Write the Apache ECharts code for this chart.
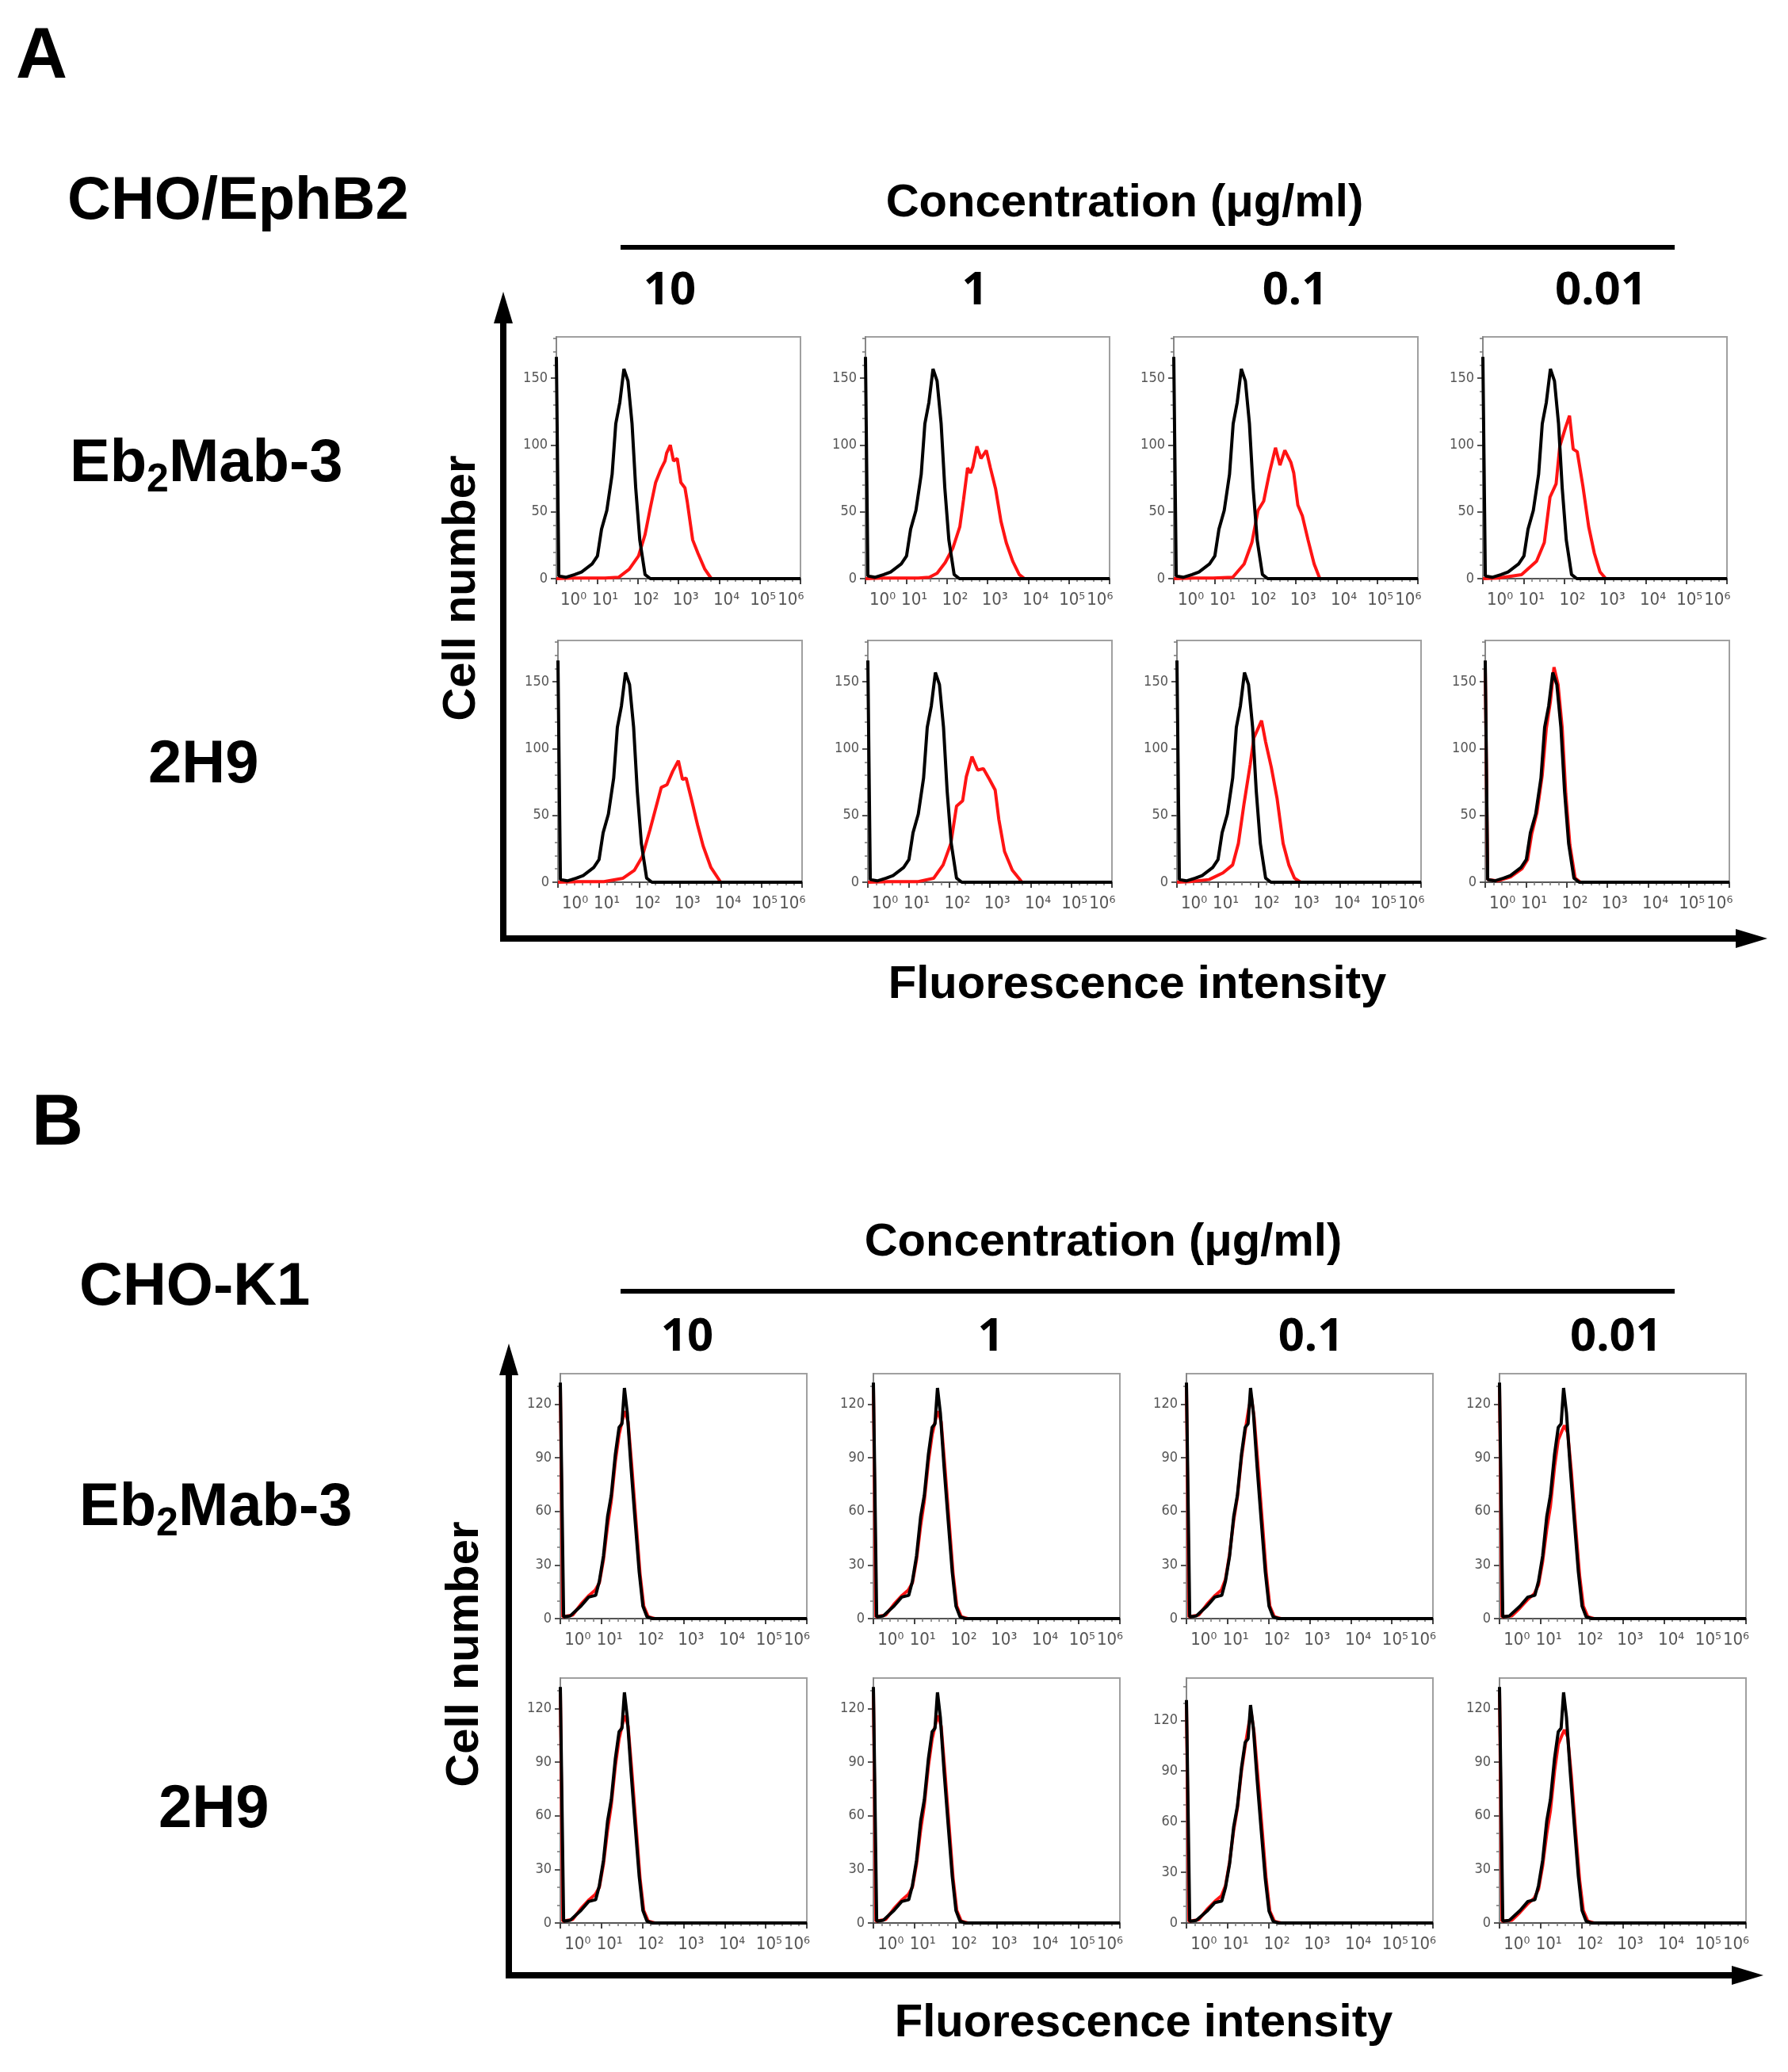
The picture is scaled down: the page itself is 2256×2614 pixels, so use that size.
<!DOCTYPE html>
<html><head><meta charset="utf-8">
<script src="https://cdn.jsdelivr.net/npm/echarts@6/dist/echarts.min.js"></script>
<style>html,body{margin:0;padding:0;background:#fff}#c{width:2256px;height:2614px}</style>
</head><body><div id="c"></div>
<script>
// ---------------- data ----------------
const concentrations = ['10', '1', '0.1', '0.01'];
const antibodies = ['Eb2Mab-3', '2H9'];
const cellLines = ['CHO/EphB2', 'CHO-K1'];
const xTickLabels = ['10\u2070', '10\u00b9', '10\u00b2', '10\u00b3', '10\u2074', '10\u2075\u200a10\u2076'];
const yTicksA = [0, 50, 100, 150];
const yTicksB = [0, 30, 60, 90, 120];

// control (black) histogram, panel A
const ctrlA = [[0,166],[0.06,2],[0.23,1],[0.45,3],[0.62,5],[0.88,11],[1.01,17],[1.11,37],[1.24,51],[1.37,78],[1.46,116],[1.56,132],[1.66,157],[1.76,148],[1.86,116],[1.95,68],[2.05,29],[2.18,3],[2.31,0],[6,0]];
// antibody (red) histograms, panel A
const redA_r1c1 = [[0,0],[0.4,0.5],[1.2,0.5],[1.53,1],[1.79,7],[2.02,17],[2.18,33],[2.31,53],[2.44,72],[2.57,82],[2.67,88],[2.71,94],[2.80,100],[2.88,88],[2.97,90],[3.06,72],[3.16,68],[3.22,57],[3.35,29],[3.48,19],[3.65,7],[3.81,0],[6,0]];
const redA_r1c2 = [[0,0],[0.4,0.5],[1.3,0.5],[1.57,1],[1.76,4],[1.96,12],[2.15,23],[2.32,39],[2.41,59],[2.51,83],[2.58,79],[2.64,84],[2.74,99],[2.84,90],[2.97,96],[3.07,83],[3.20,67],[3.33,43],[3.46,27],[3.62,13],[3.78,3],[3.91,0],[6,0]];
const redA_r1c3 = [[0,0],[0.5,0.5],[0.97,0.5],[1.45,1],[1.73,11],[1.92,27],[2.07,51],[2.21,58],[2.35,79],[2.50,98],[2.61,85],[2.73,96],[2.88,87],[2.95,79],[3.05,55],[3.16,47],[3.30,29],[3.45,11],[3.59,0],[6,0]];
const redA_r1c4 = [[0,0],[0.38,0.5],[0.95,3],[1.32,13],[1.51,27],[1.65,61],[1.80,71],[1.89,99],[2.03,113],[2.13,122],[2.22,97],[2.32,95],[2.46,69],[2.60,39],[2.74,19],[2.88,5],[3.02,0],[6,0]];
const redA_r2c1 = [[0,0],[0.5,0.5],[1.13,0.5],[1.60,3],[1.88,9],[2.07,19],[2.26,39],[2.40,55],[2.54,71],[2.68,73],[2.82,83],[2.96,91],[3.06,77],[3.15,78],[3.29,61],[3.43,43],[3.57,27],[3.76,11],[4.00,0],[6,0]];
const redA_r2c2 = [[0,0],[0.5,0.5],[1.24,0.5],[1.62,3],[1.85,13],[2.04,29],[2.18,57],[2.33,61],[2.42,79],[2.56,94],[2.70,84],[2.84,85],[2.99,77],[3.13,69],[3.22,47],[3.36,23],[3.55,9],[3.79,0],[6,0]];
const redA_r2c3 = [[0,0],[0.32,0.5],[0.79,2],[1.13,7],[1.37,13],[1.51,29],[1.65,59],[1.80,88],[1.89,108],[2.08,121],[2.18,105],[2.32,86],[2.46,63],[2.61,29],[2.75,13],[2.89,3],[3.04,0],[6,0]];
const redA_r2c4 = [[0,160],[0.06,2],[0.3,1],[0.62,4],[0.9,10],[1.04,17],[1.14,36],[1.27,52],[1.4,80],[1.5,115],[1.6,135],[1.69,161],[1.79,148],[1.89,116],[1.98,66],[2.08,28],[2.21,3],[2.34,0],[6,0]];

// control (black) histogram, panel B
const ctrlB = [[0,132],[0.08,1],[0.24,1.5],[0.50,7],[0.69,12],[0.86,13],[0.95,21],[1.05,35],[1.15,57],[1.24,69],[1.34,92],[1.43,107],[1.50,109],[1.56,129],[1.63,115],[1.72,85],[1.82,55],[1.92,26],[2.01,7],[2.11,1],[2.24,0],[6,0]];
// antibody (red) histograms, panel B
const redB_a = [[0,130],[0.06,1],[0.3,2],[0.5,8],[0.7,13],[0.85,16],[0.95,20],[1.05,33],[1.15,52],[1.24,66],[1.34,88],[1.43,103],[1.52,112],[1.58,116],[1.65,110],[1.74,85],[1.84,55],[1.94,25],[2.03,7],[2.14,1],[2.3,0],[6,0]];
const redB_b = [[0,130],[0.06,1],[0.3,1.5],[0.5,6],[0.7,11],[0.85,14],[0.95,19],[1.05,32],[1.15,50],[1.24,63],[1.34,85],[1.43,100],[1.52,105],[1.58,108],[1.66,104],[1.75,82],[1.85,52],[1.95,24],[2.04,7],[2.15,1],[2.3,0],[6,0]];
const redB_c = [[0,130],[0.06,1],[0.3,2],[0.5,8],[0.7,13],[0.85,16],[0.95,22],[1.05,36],[1.15,55],[1.24,68],[1.34,90],[1.43,105],[1.52,118],[1.58,124],[1.65,112],[1.74,86],[1.84,56],[1.94,26],[2.03,7],[2.14,1],[2.3,0],[6,0]];

const redA = [[redA_r1c1, redA_r1c2, redA_r1c3, redA_r1c4], [redA_r2c1, redA_r2c2, redA_r2c3, redA_r2c4]];
const redB = [[redB_a, redB_a, redB_c, redB_b], [redB_a, redB_a, redB_c, redB_b]];
const yMaxA = [[181, 181, 181, 181], [181, 181, 181, 181]];
const yMaxB = [[137, 137, 137, 137], [137, 137, 145, 137]];

// ---------------- layout ----------------
const FONT = "'Liberation Sans', Arial, Helvetica, sans-serif";
const TICKFONT = "'DejaVu Sans Condensed', 'Liberation Sans Narrow', sans-serif";
const xLabelPos = [0.42, 1.2, 2.2, 3.18, 4.18, 5.42];
const layoutA = { tops: [425, 808], lefts: [[702, 1092, 1481, 1871], [704, 1095, 1485, 1874]], width: 308, height: 305 };
const layoutB = { tops: [1733, 2117], lefts: [[707, 1102, 1497, 1892], [707, 1102, 1497, 1892]], width: 311, height: 309 };

const grids = [], xAxes = [], yAxes = [], series = [];

function addPanel(left, top, w, h, yMax, yTicks, yInt, minorSplit, black, red) {
  const i = grids.length;
  grids.push({ left: left, top: top, width: w, height: h, show: true, borderColor: '#a0a0a0', borderWidth: 2, backgroundColor: '#fff', containLabel: false });
  xAxes.push({
    gridIndex: i, type: 'value', min: 0, max: 6, interval: 1,
    axisLine: { show: true, onZero: false, lineStyle: { color: '#555', width: 2 } },
    axisTick: { show: true, customValues: [0, 1, 2, 3, 4, 5, 6], length: 7, lineStyle: { color: '#444', width: 2 } },
    minorTick: { show: true, splitNumber: 5, length: 4, lineStyle: { color: '#777', width: 1.5 } },
    splitLine: { show: false },
    axisLabel: {
      customValues: xLabelPos, margin: 16, hideOverlap: false, showMinLabel: true, showMaxLabel: true,
      fontSize: 22, color: '#555', fontFamily: TICKFONT,
      formatter: function (v) {
        let k = 0, best = 1e9;
        xLabelPos.forEach(function (p, j) { if (Math.abs(p - v) < best) { best = Math.abs(p - v); k = j; } });
        return xTickLabels[k];
      }
    }
  });
  yAxes.push({
    gridIndex: i, type: 'value', min: 0, max: yMax, interval: yInt,
    axisLine: { show: true, lineStyle: { color: '#888', width: 2 } },
    axisTick: { show: true, customValues: yTicks, length: 7, lineStyle: { color: '#555', width: 2 } },
    minorTick: { show: true, splitNumber: minorSplit, length: 4, lineStyle: { color: '#777', width: 1.5 } },
    splitLine: { show: false },
    axisLabel: { customValues: yTicks, margin: 11, fontSize: 18, color: '#555', fontFamily: TICKFONT }
  });
  series.push({ type: 'line', xAxisIndex: i, yAxisIndex: i, data: red, showSymbol: false, symbol: 'none', z: 4, clip: false,
    lineStyle: { color: '#ff1414', width: 4 }, silent: true });
  series.push({ type: 'line', xAxisIndex: i, yAxisIndex: i, data: black, showSymbol: false, symbol: 'none', z: 5, clip: false,
    lineStyle: { color: '#000', width: 4 }, silent: true });
}

for (let r = 0; r < 2; r++) for (let c = 0; c < 4; c++)
  addPanel(layoutA.lefts[r][c], layoutA.tops[r], layoutA.width, layoutA.height, yMaxA[r][c], yTicksA, 50, 5, ctrlA, redA[r][c]);
for (let r = 0; r < 2; r++) for (let c = 0; c < 4; c++)
  addPanel(layoutB.lefts[r][c], layoutB.tops[r], layoutB.width, layoutB.height, yMaxB[r][c], yTicksB, 30, 3, ctrlB, redB[r][c]);

// ---------------- annotation graphics ----------------
const g = [];
function txt(x, y, text, size, opts) {
  opts = opts || {};
  g.push({ type: 'text', x: x, y: y, rotation: opts.rot || 0, z: 10,
    style: { x: 0, y: 0, text: text, fontSize: size, fontWeight: opts.weight || 'bold', fontFamily: opts.family || FONT,
      fill: '#000', align: opts.align || 'left', verticalAlign: 'middle', rich: opts.rich } });
}
function abName(x, y, name) {
  if (name.indexOf('Eb2') === 0) {
    txt(x, y, '{n|Eb}{s|2}{n|' + name.slice(3) + '}', 76, { rich: {
      n: { fontSize: 76, lineHeight: 90, fontWeight: 'bold', fontFamily: FONT, color: '#000' },
      s: { fontSize: 50, lineHeight: 48, verticalAlign: 'bottom', fontWeight: 'bold', fontFamily: FONT, color: '#000' } } });
  } else {
    txt(x, y, name, 76);
  }
}
function arrows(x0, yTip, yCorner, xTip) {
  g.push({ type: 'line', z: 10, shape: { x1: x0, y1: yCorner + 4, x2: x0, y2: yTip + 30 }, style: { stroke: '#000', lineWidth: 8 } });
  g.push({ type: 'polygon', z: 10, shape: { points: [[x0, yTip], [x0 - 12, yTip + 40], [x0 + 12, yTip + 40]] }, style: { fill: '#000' } });
  g.push({ type: 'line', z: 10, shape: { x1: x0 - 4, y1: yCorner, x2: xTip - 30, y2: yCorner }, style: { stroke: '#000', lineWidth: 8 } });
  g.push({ type: 'polygon', z: 10, shape: { points: [[xTip, yCorner], [xTip - 40, yCorner - 12], [xTip - 40, yCorner + 12]] }, style: { fill: '#000' } });
}

// Panel A
txt(20, 73, 'A', 90);
txt(85, 255, cellLines[0], 76);
txt(1419, 257, 'Concentration (\u03bcg/ml)', 58, { align: 'center' });
g.push({ type: 'line', z: 10, shape: { x1: 783, y1: 312, x2: 2113, y2: 312 }, style: { stroke: '#000', lineWidth: 6 } });
[845, 1230, 1634, 2020].forEach(function (x, i) { txt(x, 367, concentrations[i], 58, { align: 'center', family: "'Noto Sans', sans-serif" }); });
abName(88, 586, antibodies[0]);
txt(187, 966, antibodies[1], 76);
txt(583, 742, 'Cell number', 58, { align: 'center', rot: Math.PI / 2 });
txt(1435, 1243, 'Fluorescence intensity', 58, { align: 'center' });
arrows(635, 368, 1184, 2230);

// Panel B
txt(40, 1419, 'B', 90);
txt(100, 1625, cellLines[1], 76);
txt(1392, 1568, 'Concentration (\u03bcg/ml)', 58, { align: 'center' });
g.push({ type: 'line', z: 10, shape: { x1: 783, y1: 1629, x2: 2113, y2: 1629 }, style: { stroke: '#000', lineWidth: 6 } });
[867, 1250, 1654, 2039].forEach(function (x, i) { txt(x, 1687, concentrations[i], 58, { align: 'center', family: "'Noto Sans', sans-serif" }); });
abName(100, 1903, antibodies[0]);
txt(200, 2284, antibodies[1], 76);
txt(587, 2087, 'Cell number', 58, { align: 'center', rot: Math.PI / 2 });
txt(1443, 2553, 'Fluorescence intensity', 58, { align: 'center' });
arrows(642, 1695, 2492, 2225);

const chart = echarts.init(document.getElementById('c'), null, { renderer: 'canvas' });
chart.setOption({
  backgroundColor: '#fff', animation: false,
  grid: grids, xAxis: xAxes, yAxis: yAxes, series: series, graphic: g
});
</script></body></html>
